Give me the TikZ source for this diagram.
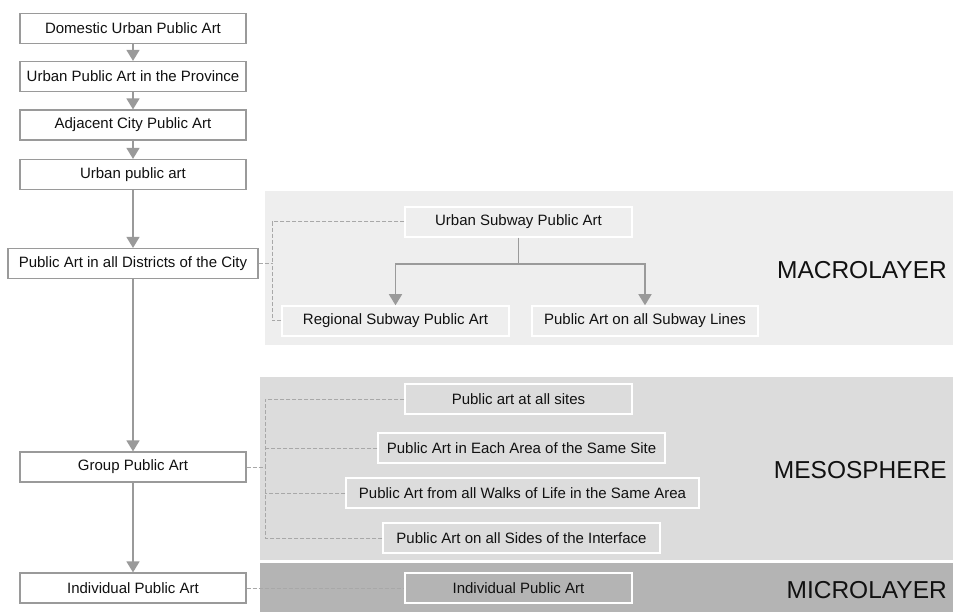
\documentclass[tikz,border=0pt]{standalone}
\usepackage{fontspec}
\setmainfont{Liberation Sans}
\usetikzlibrary{arrows.meta}
\definecolor{macrobg}{HTML}{EEEEEE}
\definecolor{mesobg}{HTML}{DCDCDC}
\definecolor{microbg}{HTML}{B4B4B4}
\definecolor{linegray}{HTML}{9A9A9A}
\definecolor{dashgray}{HTML}{A8A8A8}
\definecolor{txt}{HTML}{111111}
\tikzset{
  lbox/.style={draw=linegray, line width=1.2pt, fill=white, inner sep=0pt,
    minimum width=226pt, minimum height=30pt, font=\fontsize{15}{17}\selectfont, text=txt},
  rbox/.style={draw=white, line width=1.5pt, inner sep=0pt,
    minimum height=30pt, font=\fontsize{15}{17}\selectfont, text=txt},
  flow/.style={draw=linegray, line width=1.5pt, -{Triangle[width=13pt,length=11pt]}},
  tree/.style={draw=linegray, line width=1.5pt},
  dline/.style={draw=dashgray, line width=1pt, dash pattern=on 4pt off 2pt},
  layer/.style={anchor=east, inner sep=0pt, font=\fontsize{24.5}{28}\selectfont, text=txt}
}
\begin{document}
\begin{tikzpicture}[x=1pt,y=-1pt]
\useasboundingbox (0,0) rectangle (953,612);
\fill[white] (0,0) rectangle (953,612);
% layer backgrounds
\fill[macrobg] (265,191) rectangle (953,345);
\fill[mesobg] (260,377) rectangle (953,560);
\fill[microbg] (260,563) rectangle (953,612);
% left column
\node[lbox] (A) at (133,28.5) {Domestic Urban Public Art};
\node[lbox] (B) at (133,76.5) {Urban Public Art in the Province};
\node[lbox] (C) at (133,125) {Adjacent City Public Art};
\node[lbox] (D) at (133,174.5) {Urban public art};
\node[lbox, minimum width=250pt] (E) at (133,263.5) {Public Art in all Districts of the City};
\node[lbox] (F) at (133,467) {Group Public Art};
\node[lbox] (G) at (133,588) {Individual Public Art};
\draw[flow] (A) -- (B);
\draw[flow] (B) -- (C);
\draw[flow] (C) -- (D);
\draw[flow] (D) -- (E);
\draw[flow] (E) -- (F);
\draw[flow] (F) -- (G);
% macro layer
\node[rbox, minimum width=227pt] (R1) at (518.5,222) {Urban Subway Public Art};
\node[rbox, minimum width=227pt] (R2) at (395.5,321) {Regional Subway Public Art};
\node[rbox, minimum width=226pt] (R3) at (645,321) {Public Art on all Subway Lines};
\coordinate (tj) at (518.5,264);
\draw[tree] (R1.south) -- (tj);
\draw[flow] (tj) -| (R2.north);
\draw[flow] (tj) -| (R3.north);
\coordinate (mb) at (272,263.5);
\draw[dline] (E.east) -- (mb);
\draw[dline] (R1.west) -| (mb);
\draw[dline] (R2.west) -| (mb);
% meso layer
\node[rbox, minimum width=227pt] (M1) at (518.5,399) {Public art at all sites};
\node[rbox, minimum width=287pt] (M2) at (521.5,448) {Public Art in Each Area of the Same Site};
\node[rbox, minimum width=353pt] (M3) at (522.5,493) {Public Art from all Walks of Life in the Same Area};
\node[rbox, minimum width=277pt] (M4) at (521.5,538) {Public Art on all Sides of the Interface};
\coordinate (gb) at (265,467);
\draw[dline] (F.east) -- (gb);
\draw[dline] (M1.west) -| (gb);
\draw[dline] (M4.west) -| (gb);
\draw[dline] (M2.west) -- (M2.west -| gb);
\draw[dline] (M3.west) -- (M3.west -| gb);
% micro layer
\node[rbox, minimum width=227pt] (M5) at (518.5,588) {Individual Public Art};
\draw[dline] (G.east) -- (M5.west);
% layer labels
\node[layer] (L1) at (947,270) {MACROLAYER};
\node[layer] (L2) at (947,470) {MESOSPHERE};
\node[layer] (L3) at (947,590) {MICROLAYER};
\end{tikzpicture}
\end{document}
